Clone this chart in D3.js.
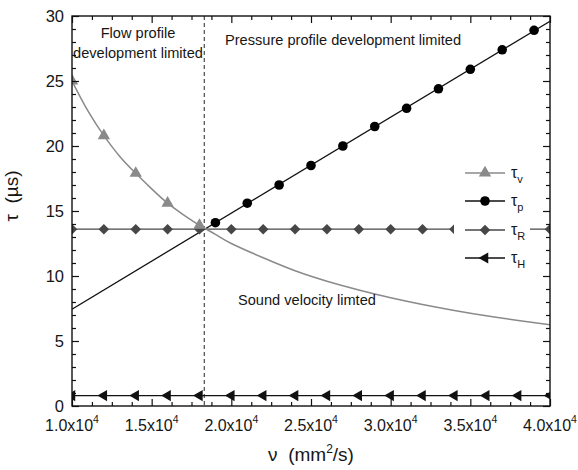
<!DOCTYPE html>
<html>
<head>
<meta charset="utf-8">
<script src="https://cdn.jsdelivr.net/npm/d3@7"></script>
<style>
  body { margin: 0; background: #fff; }
  svg { display: block; font-family: "Liberation Sans", Arial, sans-serif; }
</style>
</head>
<body>
<svg id="chart" width="578" height="470"></svg>
<script>
// Kinematic viscosity (mm^2/s) at which the markers sit
const nuMarks = [10000, 12000, 14000, 16000, 18000, 20000, 22000, 24000,
                 26000, 28000, 30000, 32000, 34000, 36000, 38000, 40000];

// tau_v : flow profile development time
const tauVNu = [10000, 12000, 14000, 16000, 18000];
const tauV = [25.0, 20.8, 17.9, 15.6, 13.9];
const tauVCurveNu = [10000, 11000, 12000, 13000, 14000, 15000, 16000, 17000, 18000,
                     19000, 20000, 22000, 24000, 26000, 28000, 30000, 32000, 34000,
                     36000, 38000, 40000];
const tauVCurve = [25.0, 22.7, 20.8, 19.2, 17.9, 16.7, 15.6, 14.7, 13.9,
                   13.2, 12.5, 11.4, 10.4, 9.6, 8.93, 8.33, 7.81, 7.35,
                   6.94, 6.58, 6.25];

// tau_p : pressure profile development time
const tauPNu = [19000, 21000, 23000, 25000, 27000, 29000, 31000, 33000, 35000, 37000, 39000];
const tauP = [14.1, 15.6, 17.0, 18.5, 20.0, 21.5, 22.9, 24.4, 25.9, 27.4, 28.9];
const tauPLineNu = [10000, 40000];
const tauPLine = [7.45, 29.6];

// tau_R and tau_H : constant times
const tauR = [13.6, 13.6, 13.6, 13.6, 13.6, 13.6, 13.6, 13.6,
              13.6, 13.6, 13.6, 13.6, 13.6, 13.6, 13.6, 13.6];
const tauH = [0.8, 0.8, 0.8, 0.8, 0.8, 0.8, 0.8, 0.8,
              0.8, 0.8, 0.8, 0.8, 0.8, 0.8, 0.8, 0.8];

// Regime boundary
const nuBoundary = [18300];

// Axis ticks
const xMajor = [10000, 15000, 20000, 25000, 30000, 35000, 40000];
const xTickMantissa = ["1.0", "1.5", "2.0", "2.5", "3.0", "3.5", "4.0"];
const xMinor = [11250, 12500, 13750, 16250, 17500, 18750, 21250, 22500, 23750,
                26250, 27500, 28750, 31250, 32500, 33750, 36250, 37500, 38750];
const yMajor = [0, 5, 10, 15, 20, 25, 30];
const yMinor = [1, 2, 3, 4, 6, 7, 8, 9, 11, 12, 13, 14, 16, 17, 18, 19,
                21, 22, 23, 24, 26, 27, 28, 29];

const legendSubs = ["v", "p", "R", "H"];

const W = 578, H = 470;
const m = { left: 72, top: 16, right: 28, bottom: 64 };
const iw = W - m.left - m.right, ih = H - m.top - m.bottom;

const svg = d3.select("#chart");
const g = svg.append("g").attr("transform", `translate(${m.left},${m.top})`);

const x = d3.scaleLinear().domain([10000, 40000]).range([0, iw]);
const y = d3.scaleLinear().domain([0, 30]).range([ih, 0]);

svg.append("defs").append("clipPath").attr("id", "plotClip")
  .append("rect").attr("width", iw).attr("height", ih);

const plot = g.append("g").attr("clip-path", "url(#plotClip)");

const TEXT = "#161616";
const GRAY = "#8a8a8a";
const DARK = "#474747";

// Boundary between regimes
plot.selectAll(".bound").data(nuBoundary).join("line")
  .attr("x1", d => x(d)).attr("x2", d => x(d))
  .attr("y1", 0).attr("y2", ih)
  .attr("stroke", "#222").attr("stroke-width", 1)
  .attr("stroke-dasharray", "4,3");

const line = d3.line().x(d => x(d[0])).y(d => y(d[1]));

// tau_H
plot.append("path").datum(nuMarks.map((n, i) => [n, tauH[i]]))
  .attr("d", line).attr("fill", "none").attr("stroke", "#111").attr("stroke-width", 1.3);

// tau_R
plot.append("path").datum(nuMarks.map((n, i) => [n, tauR[i]]))
  .attr("d", line).attr("fill", "none").attr("stroke", DARK).attr("stroke-width", 1.3);

// tau_p line
plot.append("path").datum(tauPLineNu.map((n, i) => [n, tauPLine[i]]))
  .attr("d", line).attr("fill", "none").attr("stroke", "#111").attr("stroke-width", 1.3);

// tau_v curve
plot.append("path").datum(tauVCurveNu.map((n, i) => [n, tauVCurve[i]]))
  .attr("d", d3.line().curve(d3.curveNatural).x(d => x(d[0])).y(d => y(d[1])))
  .attr("fill", "none").attr("stroke", GRAY).attr("stroke-width", 1.5);

const sym = {
  tri: d3.symbol().type(d3.symbolTriangle).size(66),
  circ: d3.symbol().type(d3.symbolCircle).size(72),
  diam: d3.symbol().type(d3.symbolSquare).size(56),
  left: d3.symbol().type(d3.symbolTriangle).size(54)
};

// tau_H markers (left-pointing triangles)
plot.selectAll(".mH").data(nuMarks.map((n, i) => [n, tauH[i]])).join("path")
  .attr("d", sym.left())
  .attr("transform", d => `translate(${x(d[0])},${y(d[1])}) rotate(-90)`)
  .attr("fill", "#111");

// tau_R markers (diamonds)
plot.selectAll(".mR").data(nuMarks.map((n, i) => [n, tauR[i]])).join("path")
  .attr("d", sym.diam())
  .attr("transform", d => `translate(${x(d[0])},${y(d[1])}) rotate(45)`)
  .attr("fill", DARK);

// tau_p markers
plot.selectAll(".mP").data(tauPNu.map((n, i) => [n, tauP[i]])).join("path")
  .attr("d", sym.circ())
  .attr("transform", d => `translate(${x(d[0])},${y(d[1])})`)
  .attr("fill", "#000");

// tau_v markers
plot.selectAll(".mV").data(tauVNu.map((n, i) => [n, tauV[i]])).join("path")
  .attr("d", sym.tri())
  .attr("transform", d => `translate(${x(d[0])},${y(d[1])})`)
  .attr("fill", GRAY);

// Region annotations
const ann = g.append("g").attr("fill", TEXT).attr("font-size", 14.6);
ann.append("text").attr("x", 66).attr("y", 22).attr("text-anchor", "middle").text("Flow profile");
ann.append("text").attr("x", 66).attr("y", 42).attr("text-anchor", "middle").text("development limited");
ann.append("text").attr("x", 153).attr("y", 29).text("Pressure profile development limited");
ann.append("text").attr("x", 166).attr("y", 289).text("Sound velocity limted");

// Legend
const lg = g.append("g").attr("transform", "translate(382,144)");
lg.append("rect").attr("x", 0).attr("y", 0).attr("width", 76).attr("height", 114).attr("fill", "#fff");
const items = [
  { color: GRAY, s: sym.tri, rot: 0, stroke: GRAY },
  { color: "#000", s: sym.circ, rot: 0, stroke: "#111" },
  { color: DARK, s: sym.diam, rot: 45, stroke: DARK },
  { color: "#111", s: sym.left, rot: -90, stroke: "#111" }
];
const rowY = [13, 41, 70, 98];
items.forEach((it, i) => {
  const row = lg.append("g").attr("transform", `translate(0,${rowY[i]})`);
  row.append("line").attr("x1", 11).attr("x2", 51).attr("stroke", it.stroke).attr("stroke-width", 1.4);
  row.append("path").attr("d", it.s()).attr("transform", `translate(31,0) rotate(${it.rot})`).attr("fill", it.color);
  const t = row.append("text").attr("x", 57).attr("y", 5).attr("font-size", 16).attr("fill", TEXT);
  t.append("tspan").text("τ");
  t.append("tspan").attr("dy", 5).attr("font-size", 11).text(legendSubs[i]);
});

// Axes: ticks pointing inward on all four sides
function ticks(axisFn, vals, len, transform) {
  const a = g.append("g").attr("transform", transform)
    .call(axisFn.tickValues(vals).tickSize(-len).tickFormat(""));
  a.select(".domain").remove();
  a.selectAll(".tick line").attr("stroke", "#111").attr("stroke-width", 1.2);
}
ticks(d3.axisBottom(x), xMajor, 7, `translate(0,${ih})`);
ticks(d3.axisBottom(x), xMinor, 4, `translate(0,${ih})`);
ticks(d3.axisTop(x), xMajor, 7, "translate(0,0)");
ticks(d3.axisTop(x), xMinor, 4, "translate(0,0)");
ticks(d3.axisLeft(y), yMajor, 7, "translate(0,0)");
ticks(d3.axisLeft(y), yMinor, 4, "translate(0,0)");
ticks(d3.axisRight(y), yMajor, 7, `translate(${iw},0)`);
ticks(d3.axisRight(y), yMinor, 4, `translate(${iw},0)`);

// Frame
g.append("rect").attr("width", iw).attr("height", ih)
  .attr("fill", "none").attr("stroke", "#111").attr("stroke-width", 1.4);

// Tick labels
g.selectAll(".ylab").data(yMajor).join("text")
  .attr("x", -8).attr("y", d => y(d) + 5.5)
  .attr("text-anchor", "end").attr("font-size", 16.5).attr("fill", TEXT)
  .text(d => d);

const xl = g.selectAll(".xlab").data(xMajor).join("text")
  .attr("x", d => x(d)).attr("y", ih + 25)
  .attr("text-anchor", "middle").attr("font-size", 16).attr("fill", TEXT);
xl.append("tspan").text((d, i) => xTickMantissa[i] + "x10");
xl.append("tspan").attr("dy", -8).attr("font-size", 10.5).text("4");

// Axis titles
const xt = g.append("text").attr("x", iw / 2).attr("y", ih + 55)
  .attr("text-anchor", "middle").attr("font-size", 19).attr("fill", TEXT)
  .attr("xml:space", "preserve").style("white-space", "pre");
xt.append("tspan").text("ν  (mm");
xt.append("tspan").attr("dy", -8).attr("font-size", 12).text("2");
xt.append("tspan").attr("dy", 8).text("/s)");

g.append("text")
  .attr("transform", `translate(${18 - m.left},${196 - m.top}) rotate(-90)`)
  .attr("text-anchor", "middle").attr("font-size", 19).attr("fill", TEXT)
  .style("white-space", "pre")
  .text("τ  (µs)");
</script>
</body>
</html>
